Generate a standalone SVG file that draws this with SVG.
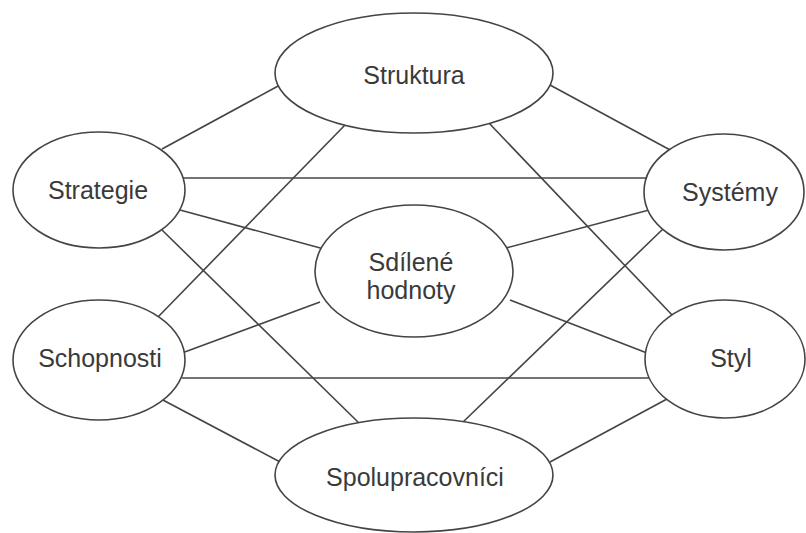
<svg xmlns="http://www.w3.org/2000/svg" width="806" height="533" viewBox="0 0 806 533">
<style>
.c line{stroke:#444;stroke-width:1.6;fill:none}
.n ellipse{fill:#fff;stroke:#444;stroke-width:1.6}
.n text{font-family:"Liberation Sans",Arial,sans-serif;font-size:25px;fill:#3a3a3a;text-anchor:middle}
</style>
<rect width="806" height="533" fill="#fff"/>
<g id="connectors" class="c">
<line x1="162" y1="149" x2="280" y2="85"/>
<line x1="180" y1="178" x2="648" y2="178"/>
<line x1="180" y1="210" x2="324" y2="249"/>
<line x1="162" y1="230" x2="360" y2="424"/>
<line x1="158" y1="317" x2="345" y2="125"/>
<line x1="182" y1="353" x2="320" y2="302"/>
<line x1="182" y1="378" x2="650" y2="378"/>
<line x1="161" y1="399" x2="282" y2="463"/>
<line x1="550" y1="85" x2="672" y2="151"/>
<line x1="488" y1="122" x2="674" y2="317"/>
<line x1="506" y1="248" x2="649" y2="210"/>
<line x1="510" y1="300" x2="647" y2="353"/>
<line x1="664" y1="228" x2="462" y2="423"/>
<line x1="667" y1="399" x2="550" y2="462"/>
</g>
<g id="struktura" class="n"><ellipse cx="414" cy="73" rx="139" ry="60"/><text x="414" y="84">Struktura</text></g>
<g id="strategie" class="n"><ellipse cx="99" cy="190" rx="86" ry="58"/><text x="98" y="199">Strategie</text></g>
<g id="systemy" class="n"><ellipse cx="724" cy="192" rx="80" ry="58"/><text x="730" y="201">Systémy</text></g>
<g id="sdilene" class="n"><ellipse cx="414" cy="271" rx="99" ry="66"/><text x="411" y="271">Sdílené</text><text x="411" y="299">hodnoty</text></g>
<g id="schopnosti" class="n"><ellipse cx="99" cy="360" rx="86" ry="60"/><text x="100" y="367">Schopnosti</text></g>
<g id="styl" class="n"><ellipse cx="725" cy="359" rx="80" ry="59"/><text x="731" y="367">Styl</text></g>
<g id="spolupracovnici" class="n"><ellipse cx="414" cy="475" rx="139" ry="57"/><text x="415" y="486">Spolupracovníci</text></g>
</svg>
